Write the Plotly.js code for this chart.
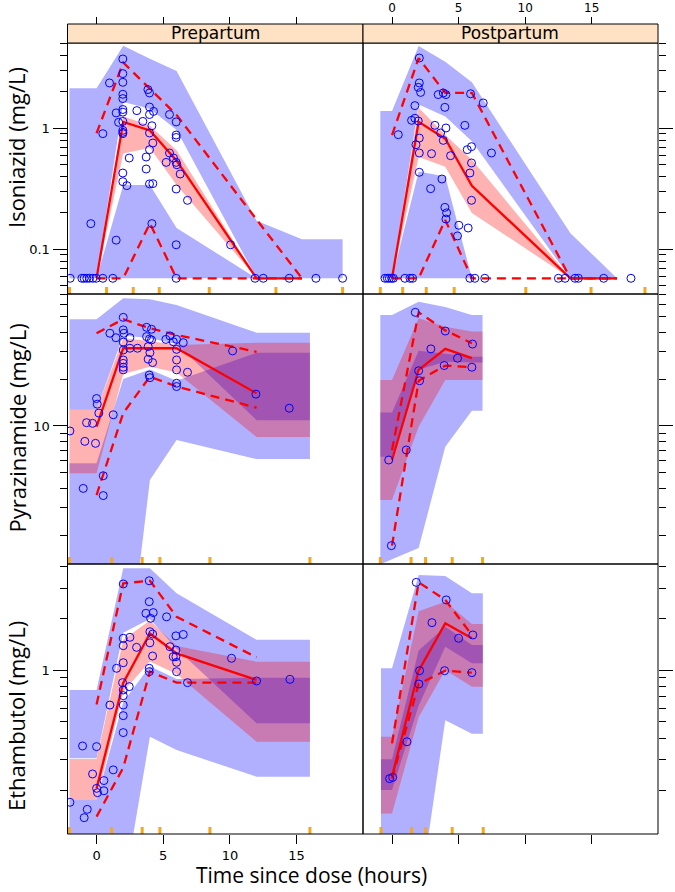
<!DOCTYPE html>
<html><head><meta charset="utf-8">
<script src="https://cdn.plot.ly/plotly-3.0.1.min.js"></script>
<style>html,body{margin:0;padding:0;background:#fff}#chart{width:675px;height:892px}</style>
</head><body><div id="chart"></div>
<script>
// ---------------- DATA ----------------
const panelNames = ['Prepartum', 'Postpartum'];
const drugTitles = ['Isoniazid (mg/L)', 'Pyrazinamide (mg/L)', 'Ethambutol (mg/L)'];
const xTitle = 'Time since dose (hours)';
const xTickVals = [0, 5, 10, 15];

// Isoniazid, prepartum
const inhPreBandT = [-2.03, 0, 2, 4, 6, 12, 15.4, 18.45];
const inhPreP95Hi = [2.14, 2.14, 4.8, 3.75, 2.98, 0.172, 0.121, 0.121];
const inhPreP95Lo = [0.0576, 0.0576, 1.65, 1.45, 0.97, 0.0576, 0.0576, 0.0576];
const inhPreMedHi = [0.0576, 0.0576, 1.26, 1.05, 0.66, 0.0576, 0.0576, 0.0576];
const inhPreMedLo = [0.0576, 0.0576, 0.62, 0.69, 0.34, 0.0576, 0.0576, 0.0576];
const inhPreP05Hi = [0.0576, 0.0576, 0.34, 0.34, 0.15, 0.0576, 0.0576, 0.0576];
const inhPreP05Lo = [0.0576, 0.0576, 0.0576, 0.0576, 0.0576, 0.0576, 0.0576, 0.0576];
const inhPreObsT = [0, 2, 4, 6, 12, 15.4];
const inhPreObsMed = [0.0576, 1.13, 0.96, 0.54, 0.0576, 0.0576];
const inhPreObs95 = [0.91, 3.5, 2.12, 1.29, 0.176, 0.0576];
const inhPreObs05 = [0.0576, 0.0576, 0.164, 0.0576, 0.0576, 0.0576];
const inhPreRug = [-2.03, 0.75, 2.75, 4.7, 8.45, 13.45, 18.45];
const inhPreT = [-1.98,-1.10,-0.93,-0.73,-0.53,-0.28,-0.03,0.47,1.22,5.97,11.88,12.5,14.45,16.45,18.45,
  1.97,1.97,1.97,0.97,1.97,1.97,3.85,3.97,1.47,1.97,1.97,3.02,3.97,4.27,3.97,5.47,5.97,1.65,1.97,3.47,4.15,3.97,
  1.97,1.97,1.97,0.47,4.22,3.97,3.72,2.45,5.47,5.77,5.22,5.97,6.02,6.27,1.97,1.97,3.72,2.27,3.97,4.22,5.97,6.82,
  -0.43,4.15,1.47,5.97,10.05,5.97,5.97];
const inhPreC = [0.0576,0.0576,0.0576,0.0576,0.0576,0.0576,0.0576,0.0576,0.0576,0.0576,0.0576,0.0576,0.0576,0.0576,0.0576,
  3.74,2.83,2.40,2.37,1.91,1.76,2.09,1.96,1.34,1.43,1.36,1.40,1.50,1.38,1.30,1.30,1.13,1.12,1.14,1.14,1.05,0.915,
  0.962,0.926,0.903,0.903,0.756,0.666,0.579,0.568,0.625,0.568,0.523,0.523,0.50,0.419,0.427,0.362,0.461,0.336,0.347,0.349,0.315,0.254,
  0.163,0.163,0.119,0.109,0.109,0.88,0.84];

// Isoniazid, postpartum
const inhPostBandT = [-0.88, 0, 2, 4, 6, 13.4, 16.9, 19.0];
const inhPostP95Hi = [1.39, 1.39, 4.78, 3.55, 2.4, 0.136, 0.0576, 0.0576];
const inhPostP95Lo = [0.0576, 0.0576, 1.57, 1.25, 0.78, 0.0576, 0.0576, 0.0576];
const inhPostMedHi = [0.0576, 0.0576, 1.48, 0.88, 0.55, 0.0576, 0.0576, 0.0576];
const inhPostMedLo = [0.0576, 0.0576, 0.58, 0.48, 0.2, 0.0576, 0.0576, 0.0576];
const inhPostP05Hi = [0.0576, 0.0576, 0.44, 0.40, 0.0576, 0.0576, 0.0576, 0.0576];
const inhPostP05Lo = [0.0576, 0.0576, 0.0576, 0.0576, 0.0576, 0.0576, 0.0576, 0.0576];
const inhPostObsT = [0, 2, 4, 6, 13.4, 16.9];
const inhPostObsMed = [0.0576, 1.13, 0.82, 0.335, 0.0576, 0.0576];
const inhPostObs95 = [0.88, 3.8, 1.96, 1.96, 0.0576, 0.0576];
const inhPostObs05 = [0.0576, 0.0576, 0.175, 0.0576, 0.0576, 0.0576];
const inhPostRug = [-0.88, 0.8, 2.57, 4.67, 10.05, 14.95, 19.0];
const inhPostT = [-0.53,-0.35,-0.2,-0.03,0.1,0.97,1.35,1.55,5.85,6.22,6.97,12.5,13.0,13.75,14.0,15.9,17.95,
  2.05,2.05,1.97,2.15,3.47,3.85,4.05,5.9,6.85,1.72,3.97,1.47,1.72,1.97,3.22,4.05,3.65,5.47,0.47,2.05,
  1.8,3.85,2.05,2.97,4.4,5.65,5.97,7.47,5.97,5.85,2.05,3.75,2.9,5.97,3.97,4.1,4.05,5.02,5.72,4.92];
const inhPostC = [0.0576,0.0576,0.0576,0.0576,0.0576,0.0576,0.0576,0.0576,0.0576,0.0576,0.0576,0.0576,0.0576,0.0576,0.0576,0.0576,0.0576,
  3.81,2.37,2.18,1.98,1.90,1.96,1.90,1.93,1.62,1.54,1.49,1.164,1.21,1.149,1.058,1.006,0.915,1.058,0.886,0.831,
  0.732,0.795,0.625,0.617,0.594,0.666,0.705,0.625,0.517,0.427,0.433,0.381,0.317,0.254,0.222,0.20,0.178,0.158,0.150,0.129];

// Pyrazinamide, prepartum
const pzaPreBandT = [-2.03, 0, 2, 4, 6, 12, 16];
const pzaPreP95Hi = [48.3, 48.3, 65.8, 64.8, 59.7, 39.6, 39.6];
const pzaPreP95Lo = [12.7, 12.7, 38, 36.5, 33.5, 10.9, 10.9];
const pzaPreMedHi = [12.7, 12.7, 36.5, 35, 33, 34.2, 34.2];
const pzaPreMedLo = [4.98, 4.98, 21.5, 24, 22, 8.5, 8.5];
const pzaPreP05Hi = [5.77, 5.77, 20, 23, 19.5, 29.5, 29.5];
const pzaPreP05Lo = [0.1, 0.1, 0.17, 4.5, 8.13, 6.14, 6.14];
const pzaPreObsT = [0, 2, 4, 6, 12];
const pzaPreObsMed = [9.9, 31.5, 31.5, 31.5, 16.2];
const pzaPreObs95 = [39.3, 48.3, 42.3, 38.3, 29.9];
const pzaPreObs05 = [3.61, 12.1, 20.7, 17.9, 13.1];
const pzaPreRug = [-2.03, 1.13, 3.42, 4.75, 8.5, 16.0];
const pzaPreT = [2.0,1.0,1.45,2.0,2.05,2.5,3.07,2.5,2.0,2.0,2.0,2.0,2.0,2.0,
  3.75,4.12,3.75,4.12,3.87,4.0,3.87,4.2,3.95,4.0,3.97,
  5.2,5.5,5.75,6.0,6.5,6.0,6.0,6.0,6.82,6.0,6.0,
  10.2,11.95,14.45,
  0.0,0.05,0.17,1.25,-0.75,-0.3,-2.0,-0.88,-0.08,0.5,-1.0,0.5];
const pzaPreC = [49.7,39.3,36.8,41.3,39.3,36.8,31.5,31.5,30.7,26.5,25.2,23.8,22.9,34.5,
  42.9,41.7,37.4,35.6,32.3,29.5,26.8,25.5,21.2,20.4,36.1,
  35.9,37.8,34.7,35.9,34.2,31.0,26.5,22.9,22.1,18.8,17.9,
  30.3,16.0,13.0,
  15.0,13.8,12.1,11.8,10.5,10.4,9.29,7.97,7.74,4.80,3.98,3.58];

// Pyrazinamide, postpartum
const pzaPostBandT = [-0.88, 0, 2, 4, 6, 6.8];
const pzaPostP95Hi = [51.5, 51.5, 62.6, 58, 51.5, 51.5];
const pzaPostP95Lo = [6.36, 6.36, 22.9, 25.8, 25.5, 25.5];
const pzaPostMedHi = [19.7, 19.7, 49, 43.3, 40.3, 40.3];
const pzaPostMedLo = [3.35, 3.35, 9.9, 19.7, 19.7, 19.7];
const pzaPostP05Hi = [12.2, 12.2, 30.4, 29.2, 27.8, 27.8];
const pzaPostP05Lo = [1.3, 1.4, 1.65, 7.37, 12.5, 12.5];
const pzaPostObsT = [0, 2, 4, 6];
const pzaPostObsMed = [6.05, 22.9, 31.2, 27.2];
const pzaPostObs95 = [7.0, 53.5, 41, 33.9];
const pzaPostObs05 = [1.71, 19.5, 24.4, 23.8];
const pzaPostRug = [-0.88, 1.43, 2.52, 4.52, 6.8];
const pzaPostT = [1.75,4.0,6.05,2.92,4.92,2.0,2.07,3.92,6.0,1.07,-0.25,-0.05];
const pzaPostC = [53.5,40.6,33.5,31.2,27.2,22.6,19.5,24.4,23.8,7.02,6.05,1.71];

// Ethambutol, prepartum
const embPreBandT = [-2.03, 0, 2, 4, 6, 12, 16];
const embPreP95Hi = [0.765, 0.765, 3.92, 3.92, 2.8, 1.50, 1.50];
const embPreP95Lo = [0.306, 0.306, 1.65, 1.98, 1.33, 0.489, 0.489];
const embPreMedHi = [0.303, 0.303, 1.5, 1.94, 1.38, 1.118, 1.118];
const embPreMedLo = [0.175, 0.175, 0.75, 1.12, 0.948, 0.382, 0.382];
const embPreP05Hi = [0.175, 0.175, 0.65, 1.05, 0.886, 0.902, 0.902];
const embPreP05Lo = [0.05, 0.05, 0.05, 0.409, 0.342, 0.239, 0.239];
const embPreObsT = [0, 2, 4, 6, 12];
const embPreObsMed = [0.2045, 0.84, 1.63, 1.25, 0.875];
const embPreObs95 = [0.63, 3.2, 3.31, 2.04, 1.185];
const embPreObs05 = [0.14, 0.27, 0.978, 0.844, 0.844];
const embPreRug = [-2.03, 1.13, 3.42, 4.75, 8.5, 16.0];
const embPreT = [2.0,3.95,3.95,3.7,4.25,4.05,5.25,6.5,5.95,
  4.0,4.2,2.0,2.5,2.0,3.0,4.0,5.5,5.95,5.95,5.75,6.0,6.0,4.2,3.95,3.95,2.0,1.5,
  1.95,2.45,2.0,2.0,2.0,2.0,2.0,1.0,6.82,10.12,12.0,14.5,
  -1.05,0.0,-0.3,0.0,0.07,0.55,0.55,1.25,-2.0,-0.7,-0.93];
const embPreC = [3.17,3.31,2.50,2.14,2.16,2.0,2.04,1.61,1.58,
  1.67,1.62,1.53,1.55,1.386,1.355,1.44,1.367,1.307,1.196,1.196,1.108,0.978,1.206,1.023,0.978,1.103,1.023,
  0.844,0.80,0.765,0.709,0.625,0.542,0.432,0.625,0.844,1.17,0.863,0.882,
  0.361,0.358,0.248,0.2045,0.193,0.227,0.198,0.262,0.1696,0.1543,0.138];

// Ethambutol, postpartum
const embPostBandT = [-0.83, 0, 2, 4, 6, 6.82];
const embPostP95Hi = [1.023, 1.023, 3.58, 3.53, 2.80, 2.80];
const embPostP95Lo = [0.20, 0.20, 0.62, 1.367, 1.093, 1.093];
const embPostMedHi = [0.409, 0.409, 2.2, 2.50, 1.853, 1.853];
const embPostMedLo = [0.146, 0.146, 0.53, 1.0, 0.80, 0.80];
const embPostP05Hi = [0.302, 0.302, 1.3, 1.788, 1.398, 1.398];
const embPostP05Lo = [0.03, 0.03, 0.044, 0.51, 0.426, 0.426];
const embPostObsT = [0, 2, 4, 6];
const embPostObsMed = [0.239, 0.99, 1.87, 1.53];
const embPostObs95 = [0.374, 3.24, 2.56, 1.60];
const embPostObs05 = [0.233, 0.83, 0.991, 0.965];
const embPostRug = [-0.83, 1.47, 2.52, 4.52, 6.85];
const embPostT = [1.82,4.07,6.07,3.0,5.0,2.07,3.95,6.0,2.02,1.12,-0.18,0.05];
const embPostC = [3.24,2.56,1.60,1.887,1.53,0.991,0.991,0.965,0.829,0.382,0.233,0.237];

// axis ticks (log scale)
const inhMajor = [0.1, 1];
const inhMinor = [0.05,0.06,0.07,0.08,0.09,0.2,0.3,0.4,0.5,0.6,0.7,0.8,0.9,2,3,4,5];
const pzaMajor = [10];
const pzaMinor = [2,3,4,5,6,7,8,9,20,30,40,50,60,70];
const embMajor = [1];
const embMinor = [0.2,0.3,0.4,0.5,0.6,0.7,0.8,0.9,2,3,4];

// ---------------- BUILD ----------------
const W = 675, H = 892;
const px2x = p => p / W, px2y = p => 1 - p / H;
const colL = [px2x(67.5), px2x(363)], colR = [px2x(363), px2x(658)];
const rowPx = [[43, 294], [294, 564], [564, 834]];
const rowDom = rowPx.map(r => [px2y(r[1]), px2y(r[0])]);
const yRanges = [[-1.3694, 0.705], [0.1154, 1.846], [-0.9552, 0.6174]];
const xRange = [-2.18, 19.98];
const BLUE = 'rgba(0,0,255,0.31)', PINK = 'rgba(255,0,0,0.30)';
const TICKFONT = {family: 'DejaVu Sans, Verdana, sans-serif', size: 13, color: '#000'};

const panels = [
  {r:0,c:0,band:[inhPreBandT,inhPreP95Hi,inhPreP95Lo,inhPreMedHi,inhPreMedLo,inhPreP05Hi,inhPreP05Lo],obs:[inhPreObsT,inhPreObsMed,inhPreObs95,inhPreObs05],pts:[inhPreT,inhPreC],rug:inhPreRug},
  {r:0,c:1,band:[inhPostBandT,inhPostP95Hi,inhPostP95Lo,inhPostMedHi,inhPostMedLo,inhPostP05Hi,inhPostP05Lo],obs:[inhPostObsT,inhPostObsMed,inhPostObs95,inhPostObs05],pts:[inhPostT,inhPostC],rug:inhPostRug},
  {r:1,c:0,band:[pzaPreBandT,pzaPreP95Hi,pzaPreP95Lo,pzaPreMedHi,pzaPreMedLo,pzaPreP05Hi,pzaPreP05Lo],obs:[pzaPreObsT,pzaPreObsMed,pzaPreObs95,pzaPreObs05],pts:[pzaPreT,pzaPreC],rug:pzaPreRug},
  {r:1,c:1,band:[pzaPostBandT,pzaPostP95Hi,pzaPostP95Lo,pzaPostMedHi,pzaPostMedLo,pzaPostP05Hi,pzaPostP05Lo],obs:[pzaPostObsT,pzaPostObsMed,pzaPostObs95,pzaPostObs05],pts:[pzaPostT,pzaPostC],rug:pzaPostRug},
  {r:2,c:0,band:[embPreBandT,embPreP95Hi,embPreP95Lo,embPreMedHi,embPreMedLo,embPreP05Hi,embPreP05Lo],obs:[embPreObsT,embPreObsMed,embPreObs95,embPreObs05],pts:[embPreT,embPreC],rug:embPreRug},
  {r:2,c:1,band:[embPostBandT,embPostP95Hi,embPostP95Lo,embPostMedHi,embPostMedLo,embPostP05Hi,embPostP05Lo],obs:[embPostObsT,embPostObsMed,embPostObs95,embPostObs05],pts:[embPostT,embPostC],rug:embPostRug}
];
const majors = [inhMajor, pzaMajor, embMajor];
const minors = [inhMinor, pzaMinor, embMinor];

function band(t, hi, lo, color, xa, ya) {
  return {x: t.concat(t.slice().reverse()), y: hi.concat(lo.slice().reverse()),
    type: 'scatter', mode: 'lines', fill: 'toself', fillcolor: color,
    line: {width: 0, color: 'rgba(0,0,0,0)'}, xaxis: xa, yaxis: ya, hoverinfo: 'skip', showlegend: false};
}
function line(t, v, dash, xa, ya) {
  return {x: t, y: v, type: 'scatter', mode: 'lines', line: {color: '#ff0000', width: 2.3, dash: dash},
    xaxis: xa, yaxis: ya, hoverinfo: 'skip', showlegend: false};
}

const traces = [], shapes = [], annotations = [];
const layout = {width: W, height: H, margin: {l:0, r:0, t:0, b:0}, paper_bgcolor: '#fff', plot_bgcolor: 'rgba(0,0,0,0)', showlegend: false};

panels.forEach((p, i) => {
  const n = i + 1;
  const xa = 'x' + (n === 1 ? '' : n), ya = 'y' + (n === 1 ? '' : n);
  const xk = 'xaxis' + (n === 1 ? '' : n), yk = 'yaxis' + (n === 1 ? '' : n);
  const [t, u1, u0, m1, m0, l1, l0] = p.band;
  traces.push(band(t, u1, u0, BLUE, xa, ya));
  traces.push(band(t, l1, l0, BLUE, xa, ya));
  traces.push(band(t, m1, m0, PINK, xa, ya));
  const [ot, om, o95, o05] = p.obs;
  traces.push(line(ot, o05, '9px,6px', xa, ya));
  traces.push(line(ot, o95, '9px,6px', xa, ya));
  traces.push(line(ot, om, 'solid', xa, ya));
  traces.push({x: p.pts[0], y: p.pts[1], type: 'scatter', mode: 'markers',
    marker: {symbol: 'circle-open', size: 8, color: '#0000ff', line: {width: 1, color: '#0000ff'}},
    xaxis: xa, yaxis: ya, hoverinfo: 'skip', showlegend: false});

  const dom = p.c === 0 ? colL : colR;
  const xax = {domain: dom, range: xRange, showgrid: false, zeroline: false, showline: false,
    ticks: '', showticklabels: false, tickmode: 'array', tickvals: xTickVals, ticktext: xTickVals.map(String),
    tickfont: TICKFONT, tickcolor: '#000', tickwidth: 1, ticklen: 9, fixedrange: true};
  if (p.r === 0) {
    Object.assign(xax, {anchor: 'free', position: px2y(24), side: 'top', ticks: 'outside', ticklen: 7,
      showticklabels: p.c === 1, tickfont: {family: 'DejaVu Sans, Verdana, sans-serif', size: 12, color: '#000'}});
  } else if (p.r === 2) {
    Object.assign(xax, {anchor: ya, side: 'bottom', ticks: 'outside', showticklabels: p.c === 0});
  } else {
    xax.anchor = ya;
  }
  layout[xk] = xax;

  layout[yk] = {domain: rowDom[p.r], type: 'log', range: yRanges[p.r], anchor: xa,
    side: p.c === 0 ? 'left' : 'right', showgrid: false, zeroline: false, showline: false,
    ticks: 'outside', ticklen: 14, tickcolor: '#000', tickwidth: 1,
    tickmode: 'array', tickvals: majors[p.r], ticktext: majors[p.r].map(String),
    showticklabels: p.c === 0, tickfont: TICKFONT, fixedrange: true,
    minor: {tickmode: 'array', tickvals: minors[p.r], ticks: 'outside', ticklen: 7, tickcolor: '#000', tickwidth: 1, showgrid: false}};

  // rug of bin boundaries
  const hFrac = 7 / (rowPx[p.r][1] - rowPx[p.r][0]);
  p.rug.forEach(v => shapes.push({type: 'line', xref: xa, yref: ya + ' domain', x0: v, x1: v, y0: 0, y1: hFrac,
    line: {color: '#f4a81d', width: 3}, layer: 'above'}));
  // frame
  shapes.push({type: 'rect', xref: 'paper', yref: 'paper', x0: dom[0], x1: dom[1], y0: rowDom[p.r][0], y1: rowDom[p.r][1],
    line: {color: '#000', width: 1}, fillcolor: 'rgba(0,0,0,0)', layer: 'above'});
});

// strips
[colL, colR].forEach((dom, c) => {
  shapes.push({type: 'rect', xref: 'paper', yref: 'paper', x0: dom[0], x1: dom[1], y0: px2y(43), y1: px2y(24),
    line: {color: '#000', width: 1}, fillcolor: '#ffe2c4', layer: 'above'});
  annotations.push({text: panelNames[c], xref: 'paper', yref: 'paper', x: (dom[0] + dom[1]) / 2, y: px2y(33.5),
    xanchor: 'center', yanchor: 'middle', showarrow: false, font: {family: 'DejaVu Sans, Verdana, sans-serif', size: 17, color: '#000'}});
});

// axis titles
const yTitleCenters = [148, 428.5, 716];
drugTitles.forEach((tx, r) => annotations.push({text: tx, xref: 'paper', yref: 'paper', x: px2x(16), y: px2y(yTitleCenters[r]),
  xanchor: 'center', yanchor: 'middle', textangle: -90, showarrow: false,
  font: {family: 'Open Sans, Noto Sans, sans-serif', size: 22, color: '#000'}}));
annotations.push({text: xTitle, xref: 'paper', yref: 'paper', x: px2x(311), y: px2y(891), xanchor: 'center', yanchor: 'bottom',
  showarrow: false, font: {family: 'Open Sans, Noto Sans, sans-serif', size: 21, color: '#000'}});

layout.shapes = shapes;
layout.annotations = annotations;
Plotly.newPlot('chart', traces, layout, {staticPlot: true, displayModeBar: false});
</script>
</body></html>
